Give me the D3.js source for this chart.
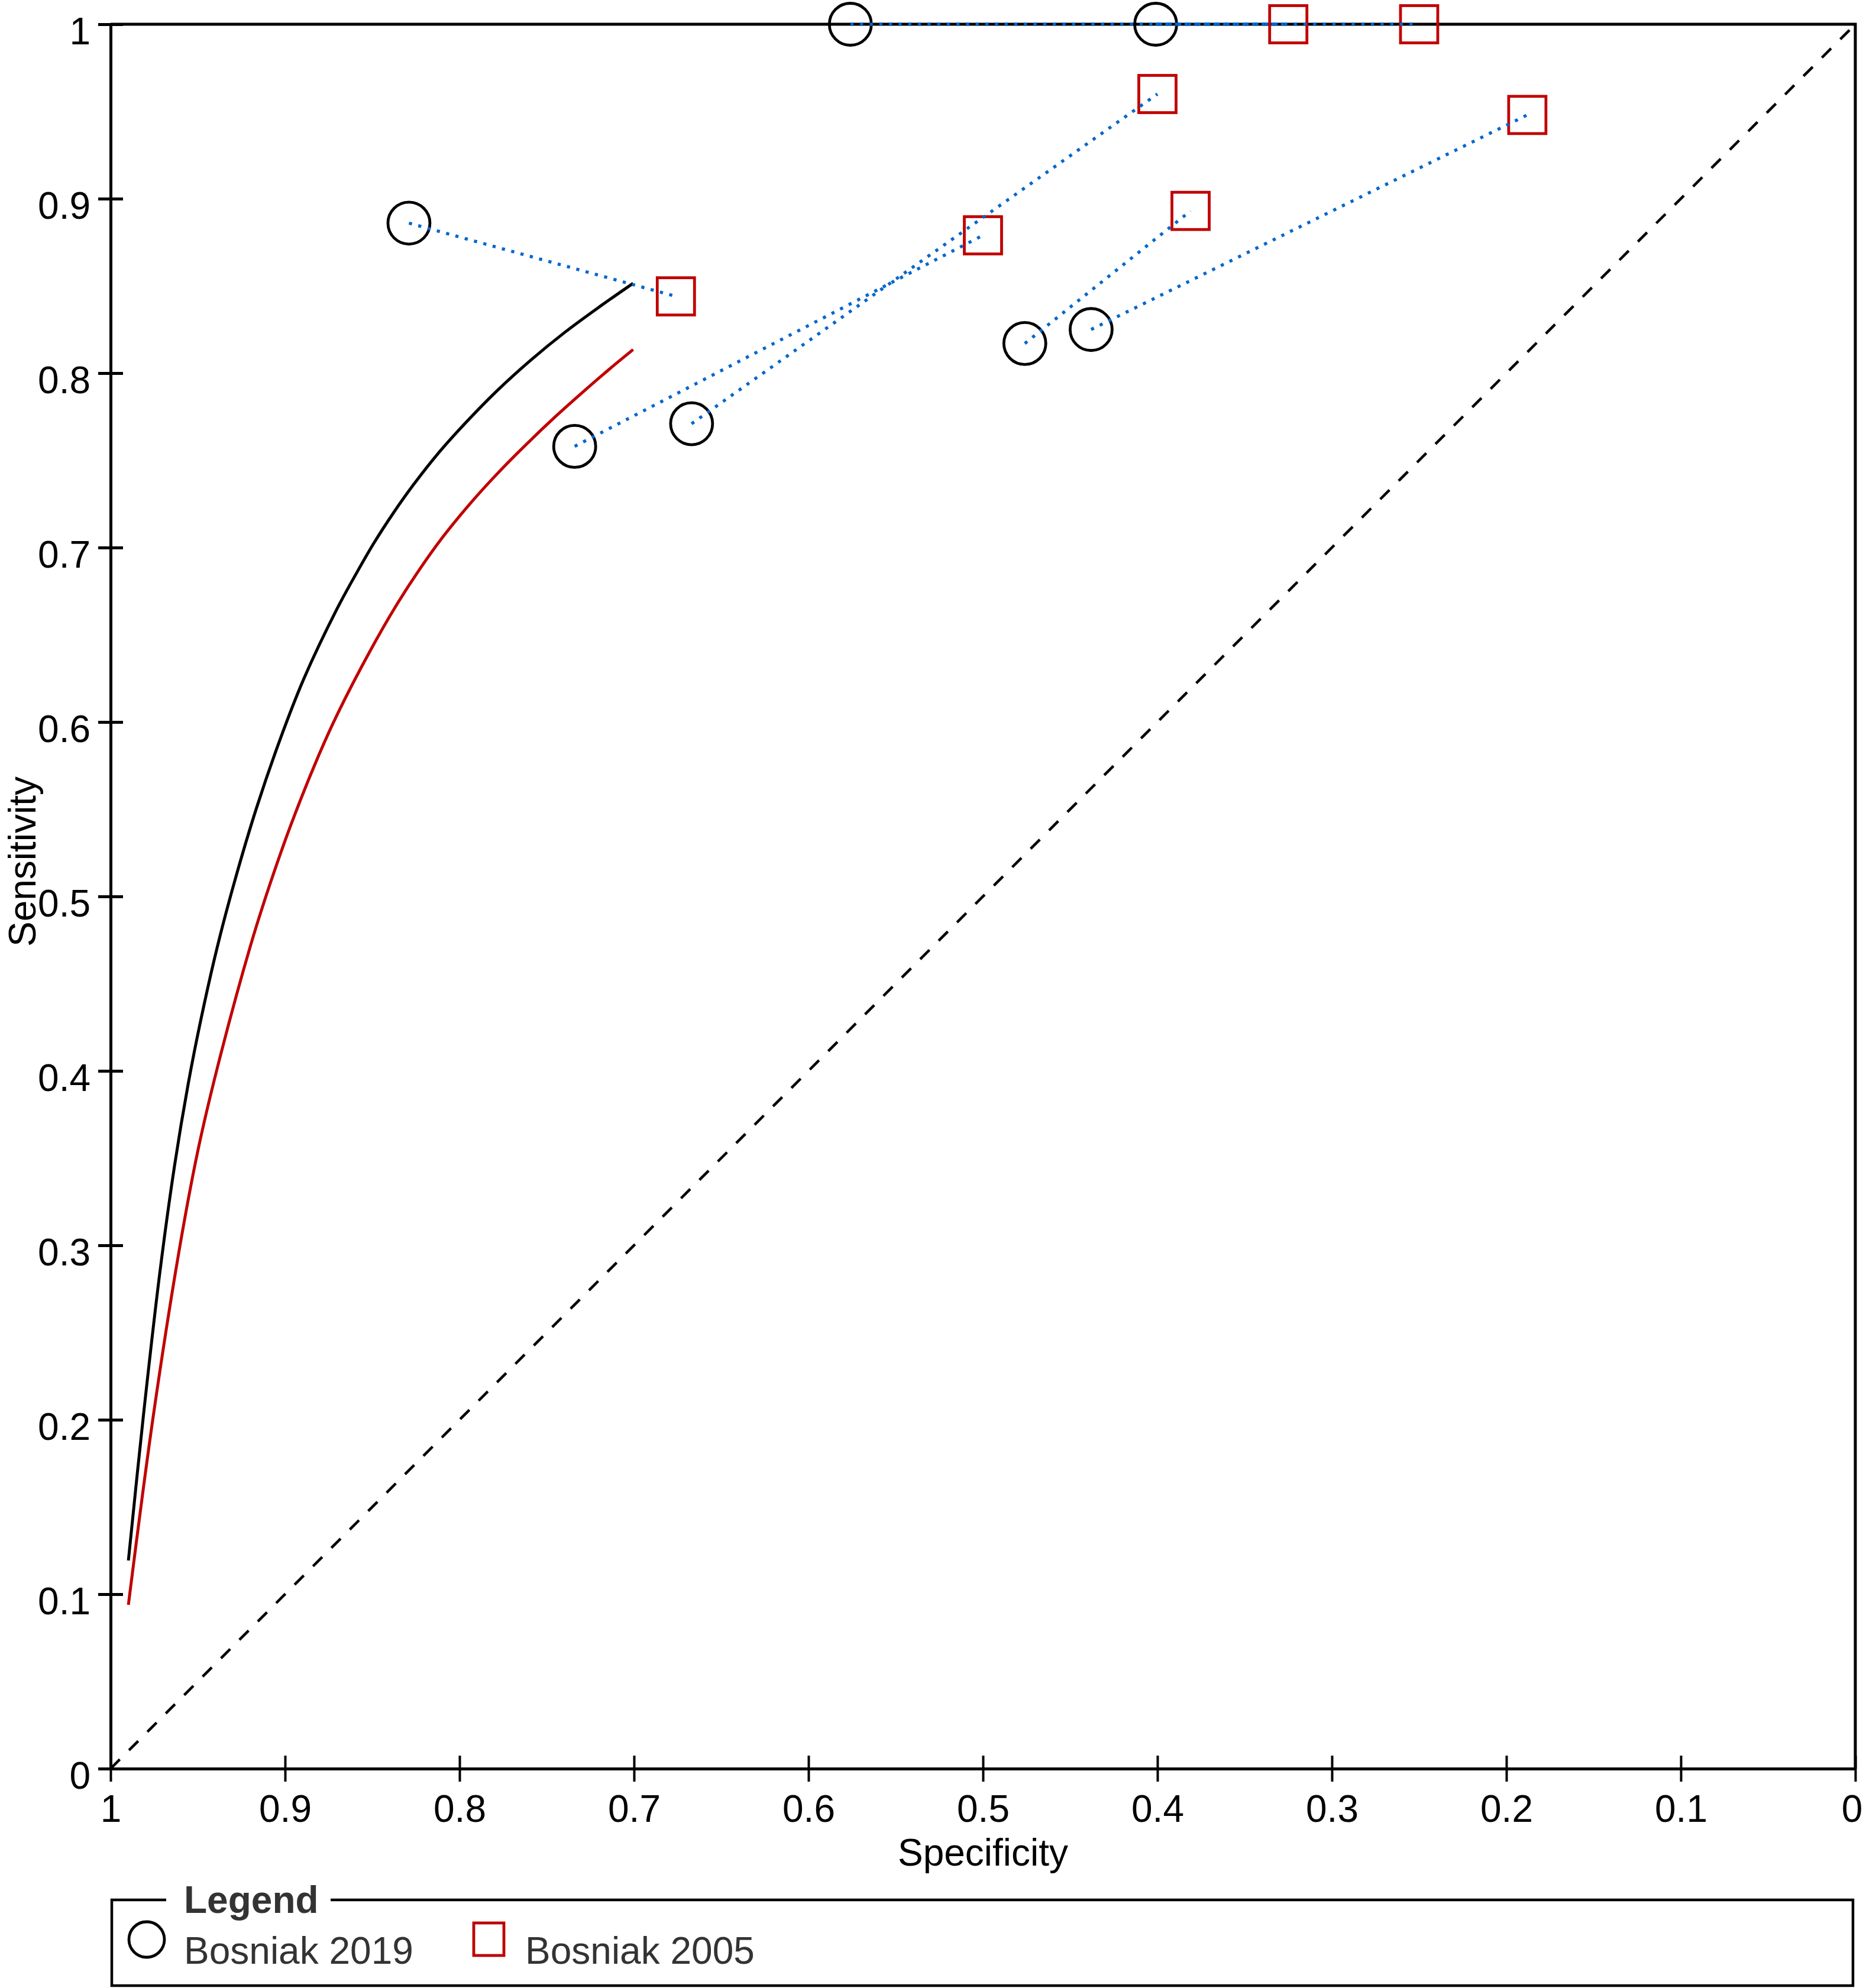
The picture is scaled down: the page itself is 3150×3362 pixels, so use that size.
<!DOCTYPE html>
<html lang="en">

<head>
    <meta charset="UTF-8" />
    <title>SROC Bosniak 2019 vs 2005</title>
    <script src="https://d3js.org/d3.v7.min.js"></script>
    <style>
        body {
            margin: 0;
            background: #fff;
        }

        text {
            font-family: "Liberation Sans", Arial, sans-serif;
        }
    </style>
</head>

<body>
    <svg id="sroc" width="3150" height="3362"></svg>
    <script>
        // tick values along both axes
        const xTickValues = [1, 0.9, 0.8, 0.7, 0.6, 0.5, 0.4, 0.3, 0.2, 0.1, 0];
        const yTickValues = [0, 0.1, 0.2, 0.3, 0.4, 0.5, 0.6, 0.7, 0.8, 0.9, 1];

        const seriesNames = ["Bosniak 2019", "Bosniak 2005"];

        // study estimates, paired by index (2019 -> 2005)
        const spec2019 = [0.829, 0.734, 0.667, 0.476, 0.438, 0.576, 0.401];
        const sens2019 = [0.886, 0.758, 0.771, 0.817, 0.825, 1.0, 1.0];
        const spec2005 = [0.676, 0.500, 0.400, 0.381, 0.188, 0.250, 0.325];
        const sens2005 = [0.844, 0.879, 0.960, 0.893, 0.948, 1.0, 1.0];

        // summary ROC curves
        const sroc2019Spec = [0.9898, 0.9812, 0.9719, 0.9634, 0.9556, 0.9488, 0.9390, 0.9289, 0.9165, 0.9029, 0.8894,
            0.8701, 0.8588, 0.8490, 0.8378, 0.8265, 0.8125, 0.7970, 0.7787, 0.7591, 0.7394, 0.7197, 0.7005];
        const sroc2019Sens = [0.1193, 0.2023, 0.2834, 0.3453, 0.3921, 0.4268, 0.4704, 0.5087, 0.5503, 0.5899, 0.6244,
            0.6651, 0.6858, 0.7027, 0.7200, 0.7359, 0.7537, 0.7710, 0.7897, 0.8075, 0.8236, 0.8381, 0.8515];
        const sroc2005Spec = [0.9898, 0.9758, 0.9607, 0.9498, 0.9380, 0.9196, 0.9092, 0.8969, 0.8807, 0.8699, 0.8511,
            0.8364, 0.8237, 0.8097, 0.7942, 0.7787, 0.7619, 0.7450, 0.7281, 0.7141, 0.7005];
        const sroc2005Sens = [0.0939, 0.2003, 0.2971, 0.3551, 0.4050, 0.4725, 0.5054, 0.5404, 0.5809, 0.6047, 0.6410,
            0.6666, 0.6863, 0.7059, 0.7249, 0.7420, 0.7590, 0.7751, 0.7902, 0.8023, 0.8135];

        {
            const svg = d3.select("svg#sroc");

            const plot = { left: 187, right: 3137, top: 41, bottom: 2991 };

            const xScale = d3.scaleLinear().domain([1, 0]).range([plot.left, plot.right]);
            const yScale = d3.scaleLinear().domain([0, 1]).range([plot.bottom, plot.top]);

            const fmt = (d) => (d === 0 || d === 1 ? String(d) : d.toFixed(1));

            const annotations = svg.append("g").attr("id", "annotations");
            const chartArea = svg.append("g").attr("id", "chart");

            // frame: top and right sides
            annotations.append("path")
                .attr("d", `M${plot.left},${yScale(1)}H${xScale(0)}V${yScale(0)}`)
                .attr("fill", "none")
                .attr("stroke", "black")
                .attr("stroke-width", 5);

            // left axis
            const leftAxis = d3.axisLeft(yScale).tickValues(yTickValues).tickFormat(fmt).tickSize(0);
            const yAxis = annotations.append("g")
                .attr("class", "y axis")
                .attr("transform", `translate(${plot.left},0)`)
                .call(leftAxis);
            yAxis.select(".domain").attr("stroke", "black").attr("stroke-width", 5);
            yAxis.selectAll(".tick line")
                .attr("x1", -21).attr("x2", 21)
                .attr("stroke", "black").attr("stroke-width", 5);
            yAxis.selectAll(".tick text")
                .attr("x", -34).attr("dy", "0.52em")
                .attr("font-size", 64).attr("fill", "black");

            // bottom axis
            const bottomAxis = d3.axisBottom(xScale).tickValues(xTickValues).tickFormat(fmt).tickSize(0);
            const xAxis = annotations.append("g")
                .attr("class", "x axis")
                .attr("transform", `translate(0,${plot.bottom})`)
                .call(bottomAxis);
            xAxis.select(".domain").attr("stroke", "black").attr("stroke-width", 5);
            xAxis.selectAll(".tick line")
                .attr("y1", -22).attr("y2", 22)
                .attr("stroke", "black").attr("stroke-width", 4);
            xAxis.selectAll(".tick text")
                .attr("y", 90).attr("dy", 0)
                .attr("x", (d) => (d === 0 ? -6 : 0))
                .attr("font-size", 64).attr("fill", "black");

            svg.selectAll(".axis").attr("font-family", null);

            // axis titles
            annotations.append("text")
                .attr("x", (plot.left + plot.right) / 2)
                .attr("y", 3155)
                .attr("text-anchor", "middle")
                .attr("font-size", 64)
                .text("Specificity");

            annotations.append("text")
                .attr("transform", "translate(60,1457) rotate(-90)")
                .attr("text-anchor", "middle")
                .attr("font-size", 64)
                .text("Sensitivity");

            // chance diagonal
            chartArea.append("line")
                .attr("x1", xScale(1)).attr("y1", yScale(0))
                .attr("x2", xScale(0)).attr("y2", yScale(1))
                .attr("stroke", "black")
                .attr("stroke-width", 4.5)
                .attr("stroke-dasharray", "22 22");

            // SROC curves
            const lineGen = d3.line()
                .x((d) => xScale(d[0]))
                .y((d) => yScale(d[1]))
                .curve(d3.curveCatmullRom.alpha(0.5));

            chartArea.append("path")
                .datum(d3.zip(sroc2019Spec, sroc2019Sens))
                .attr("class", "line sroc2019")
                .attr("fill", "none")
                .attr("stroke", "black")
                .attr("stroke-width", 5)
                .attr("d", lineGen);

            chartArea.append("path")
                .datum(d3.zip(sroc2005Spec, sroc2005Sens))
                .attr("class", "line sroc2005")
                .attr("fill", "none")
                .attr("stroke", "#c00000")
                .attr("stroke-width", 5)
                .attr("d", lineGen);

            // study points
            const pairs = spec2019.map((s, i) => ({
                spec19: s, sens19: sens2019[i], spec05: spec2005[i], sens05: sens2005[i]
            }));

            chartArea.selectAll("circle.point")
                .data(pairs)
                .join("circle")
                .attr("class", "point")
                .attr("cx", (d) => xScale(d.spec19))
                .attr("cy", (d) => yScale(d.sens19))
                .attr("r", 35.5)
                .attr("fill", "none")
                .attr("stroke", "black")
                .attr("stroke-width", 4.8);

            const sq = 63;
            chartArea.selectAll("rect.point")
                .data(pairs)
                .join("rect")
                .attr("class", "point")
                .attr("x", (d) => xScale(d.spec05) - sq / 2)
                .attr("y", (d) => yScale(d.sens05) - sq / 2)
                .attr("width", sq)
                .attr("height", sq)
                .attr("fill", "none")
                .attr("stroke", "#c00000")
                .attr("stroke-width", 4.8);

            // connecting dotted lines
            chartArea.selectAll("line.pair")
                .data(pairs)
                .join("line")
                .attr("class", "pair")
                .attr("x1", (d) => xScale(d.spec19))
                .attr("y1", (d) => yScale(d.sens19))
                .attr("x2", (d) => xScale(d.spec05))
                .attr("y2", (d) => yScale(d.sens05))
                .attr("stroke", "#0066cc")
                .attr("stroke-width", 5.3)
                .attr("stroke-dasharray", "5.3 11");

            // legend
            const legend = svg.append("g").attr("id", "legend");
            legend.append("path")
                .attr("d", "M281,3213H189V3358H3133V3213H559")
                .attr("fill", "none")
                .attr("stroke", "black")
                .attr("stroke-width", 4.5);
            legend.append("text")
                .attr("x", 311).attr("y", 3235)
                .attr("font-size", 64)
                .attr("font-weight", "bold")
                .attr("fill", "#333")
                .text("Legend");

            legend.append("circle")
                .attr("cx", 248).attr("cy", 3280).attr("r", 30)
                .attr("fill", "none")
                .attr("stroke", "black")
                .attr("stroke-width", 4.8);
            legend.append("text")
                .attr("x", 311).attr("y", 3321)
                .attr("font-size", 64)
                .attr("fill", "#333")
                .text(seriesNames[0]);

            legend.append("rect")
                .attr("x", 801).attr("y", 3252).attr("width", 51).attr("height", 55)
                .attr("fill", "none")
                .attr("stroke", "#c00000")
                .attr("stroke-width", 4.8);
            legend.append("text")
                .attr("x", 888).attr("y", 3321)
                .attr("font-size", 64)
                .attr("fill", "#333")
                .text(seriesNames[1]);
        }
    </script>
</body>

</html>
